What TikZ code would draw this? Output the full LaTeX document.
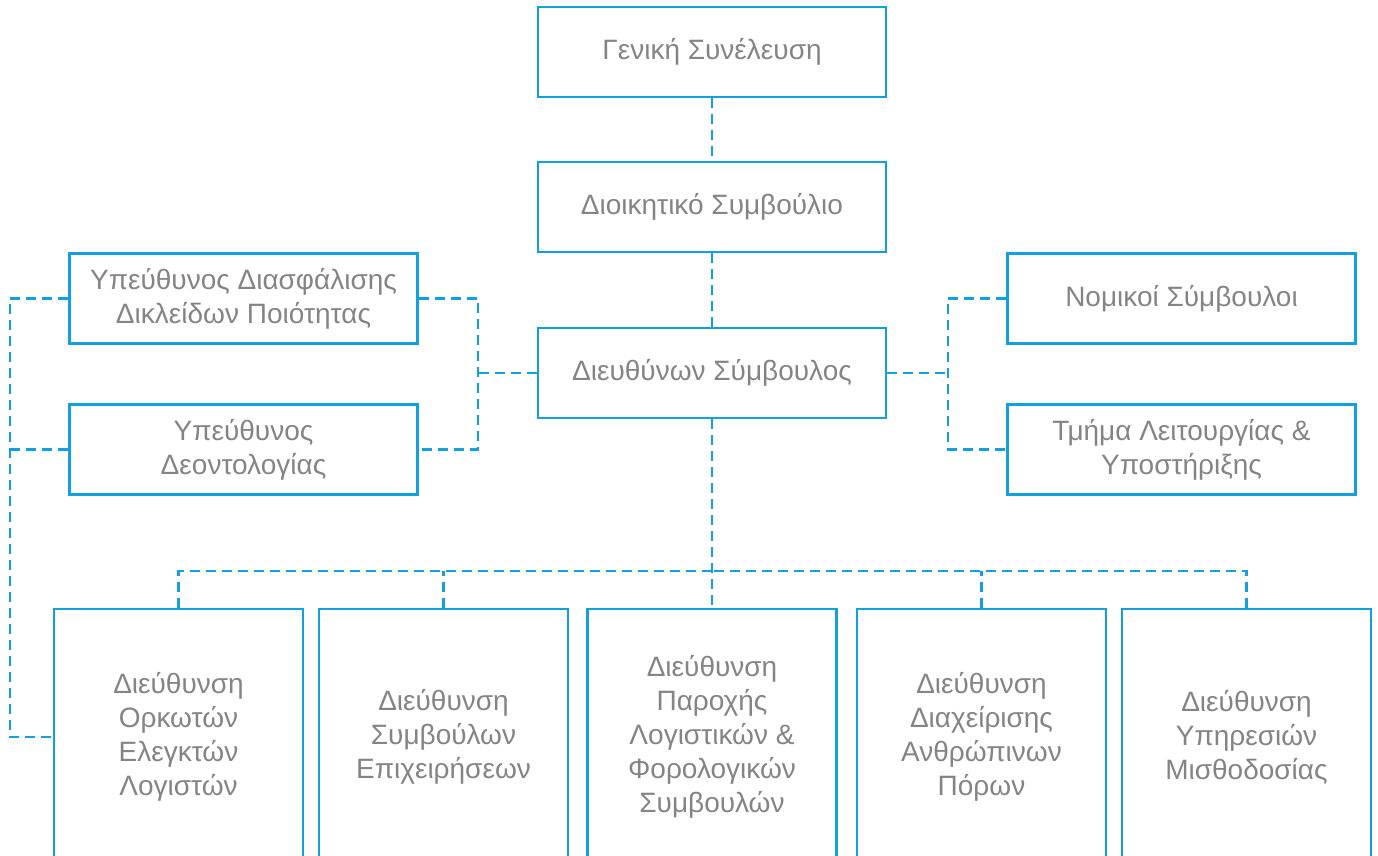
\documentclass[tikz,border=0pt]{standalone}
\usepackage{fontspec}
\setmainfont{Liberation Sans}
\definecolor{orgblue}{RGB}{18,160,222}
\definecolor{orggray}{RGB}{132,132,132}
\tikzset{
  unit/.style={draw=orgblue, line width=1.2pt, text=orggray, align=center,
    font=\fontsize{14}{17}\selectfont, minimum width=174pt, minimum height=45pt, inner sep=0pt},
  dept/.style={unit, minimum width=124.5pt, minimum height=128pt, anchor=north},
  link/.style={draw=orgblue, line width=1.2pt, dash pattern=on 5pt off 3pt},
}
\begin{document}
\begin{tikzpicture}[x=0.5pt, y=-0.5pt]
                \useasboundingbox (0,0) rectangle (1378,856);
                \clip (0,0) rectangle (1378,856);

                % Main chain
                \node[unit] (gm) at (712,52) {Γενική Συνέλευση};
                \node[unit] (board) at (712,207) {Διοικητικό Συμβούλιο};
                \node[unit] (ceo) at (712,373) {Διευθύνων Σύμβουλος};

                % Staff units left and right
                \node[unit] (qa) at (243.5,298.5) {Υπεύθυνος Διασφάλισης\\Δικλείδων Ποιότητας};
                \node[unit] (ethics) at (243.5,449.5) {Υπεύθυνος\\Δεοντολογίας};
                \node[unit] (legal) at (1181.5,298.5) {Νομικοί Σύμβουλοι};
                \node[unit] (ops) at (1181.5,449.5) {Τμήμα Λειτουργίας \&\\Υποστήριξης};

                % Directorates (cut off at the bottom)
                \node[dept] (d1) at (178.5,608) {Διεύθυνση\\Ορκωτών\\Ελεγκτών\\Λογιστών};
                \node[dept] (d2) at (443.5,608) {Διεύθυνση\\Συμβούλων\\Επιχειρήσεων};
                \node[dept] (d3) at (712,608) {Διεύθυνση\\Παροχής\\Λογιστικών \&\\Φορολογικών\\Συμβουλών};
                \node[dept] (d4) at (981.5,608) {Διεύθυνση\\Διαχείρισης\\Ανθρώπινων\\Πόρων};
                \node[dept] (d5) at (1246.5,608) {Διεύθυνση\\Υπηρεσιών\\Μισθοδοσίας};

                % Junction points
                \coordinate (lbus) at (478,373);
                \coordinate (rbus) at (948,373);
                \coordinate (lrail) at (10,0);
                \coordinate (bus) at (712,571);

                % Vertical chain
                \draw[link] (gm) -- (board);
                \draw[link] (board) -- (ceo);
                \draw[link] (ceo) -- (d3);

                % Left and right brackets
                \draw[link] (qa.east) -| (lbus) |- (ethics.east);
                \draw[link] (ceo.west) -- (lbus);
                \draw[link] (legal.west) -| (rbus) |- (ops.west);
                \draw[link] (ceo.east) -- (rbus);

                % Outer rail on the left
                \draw[link] (qa.west) -| (lrail |- d1.west) -- (d1.west);
                \draw[link] (ethics.west) -- (ethics.west -| lrail);

                % Bus to the directorates
                \draw[link] (d1.north) |- (bus);
                \draw[link] (d5.north) |- (bus);
                \draw[link] (d2.north) -- (d2.north |- bus);
                \draw[link] (d4.north) -- (d4.north |- bus);
\end{tikzpicture}
\end{document}
